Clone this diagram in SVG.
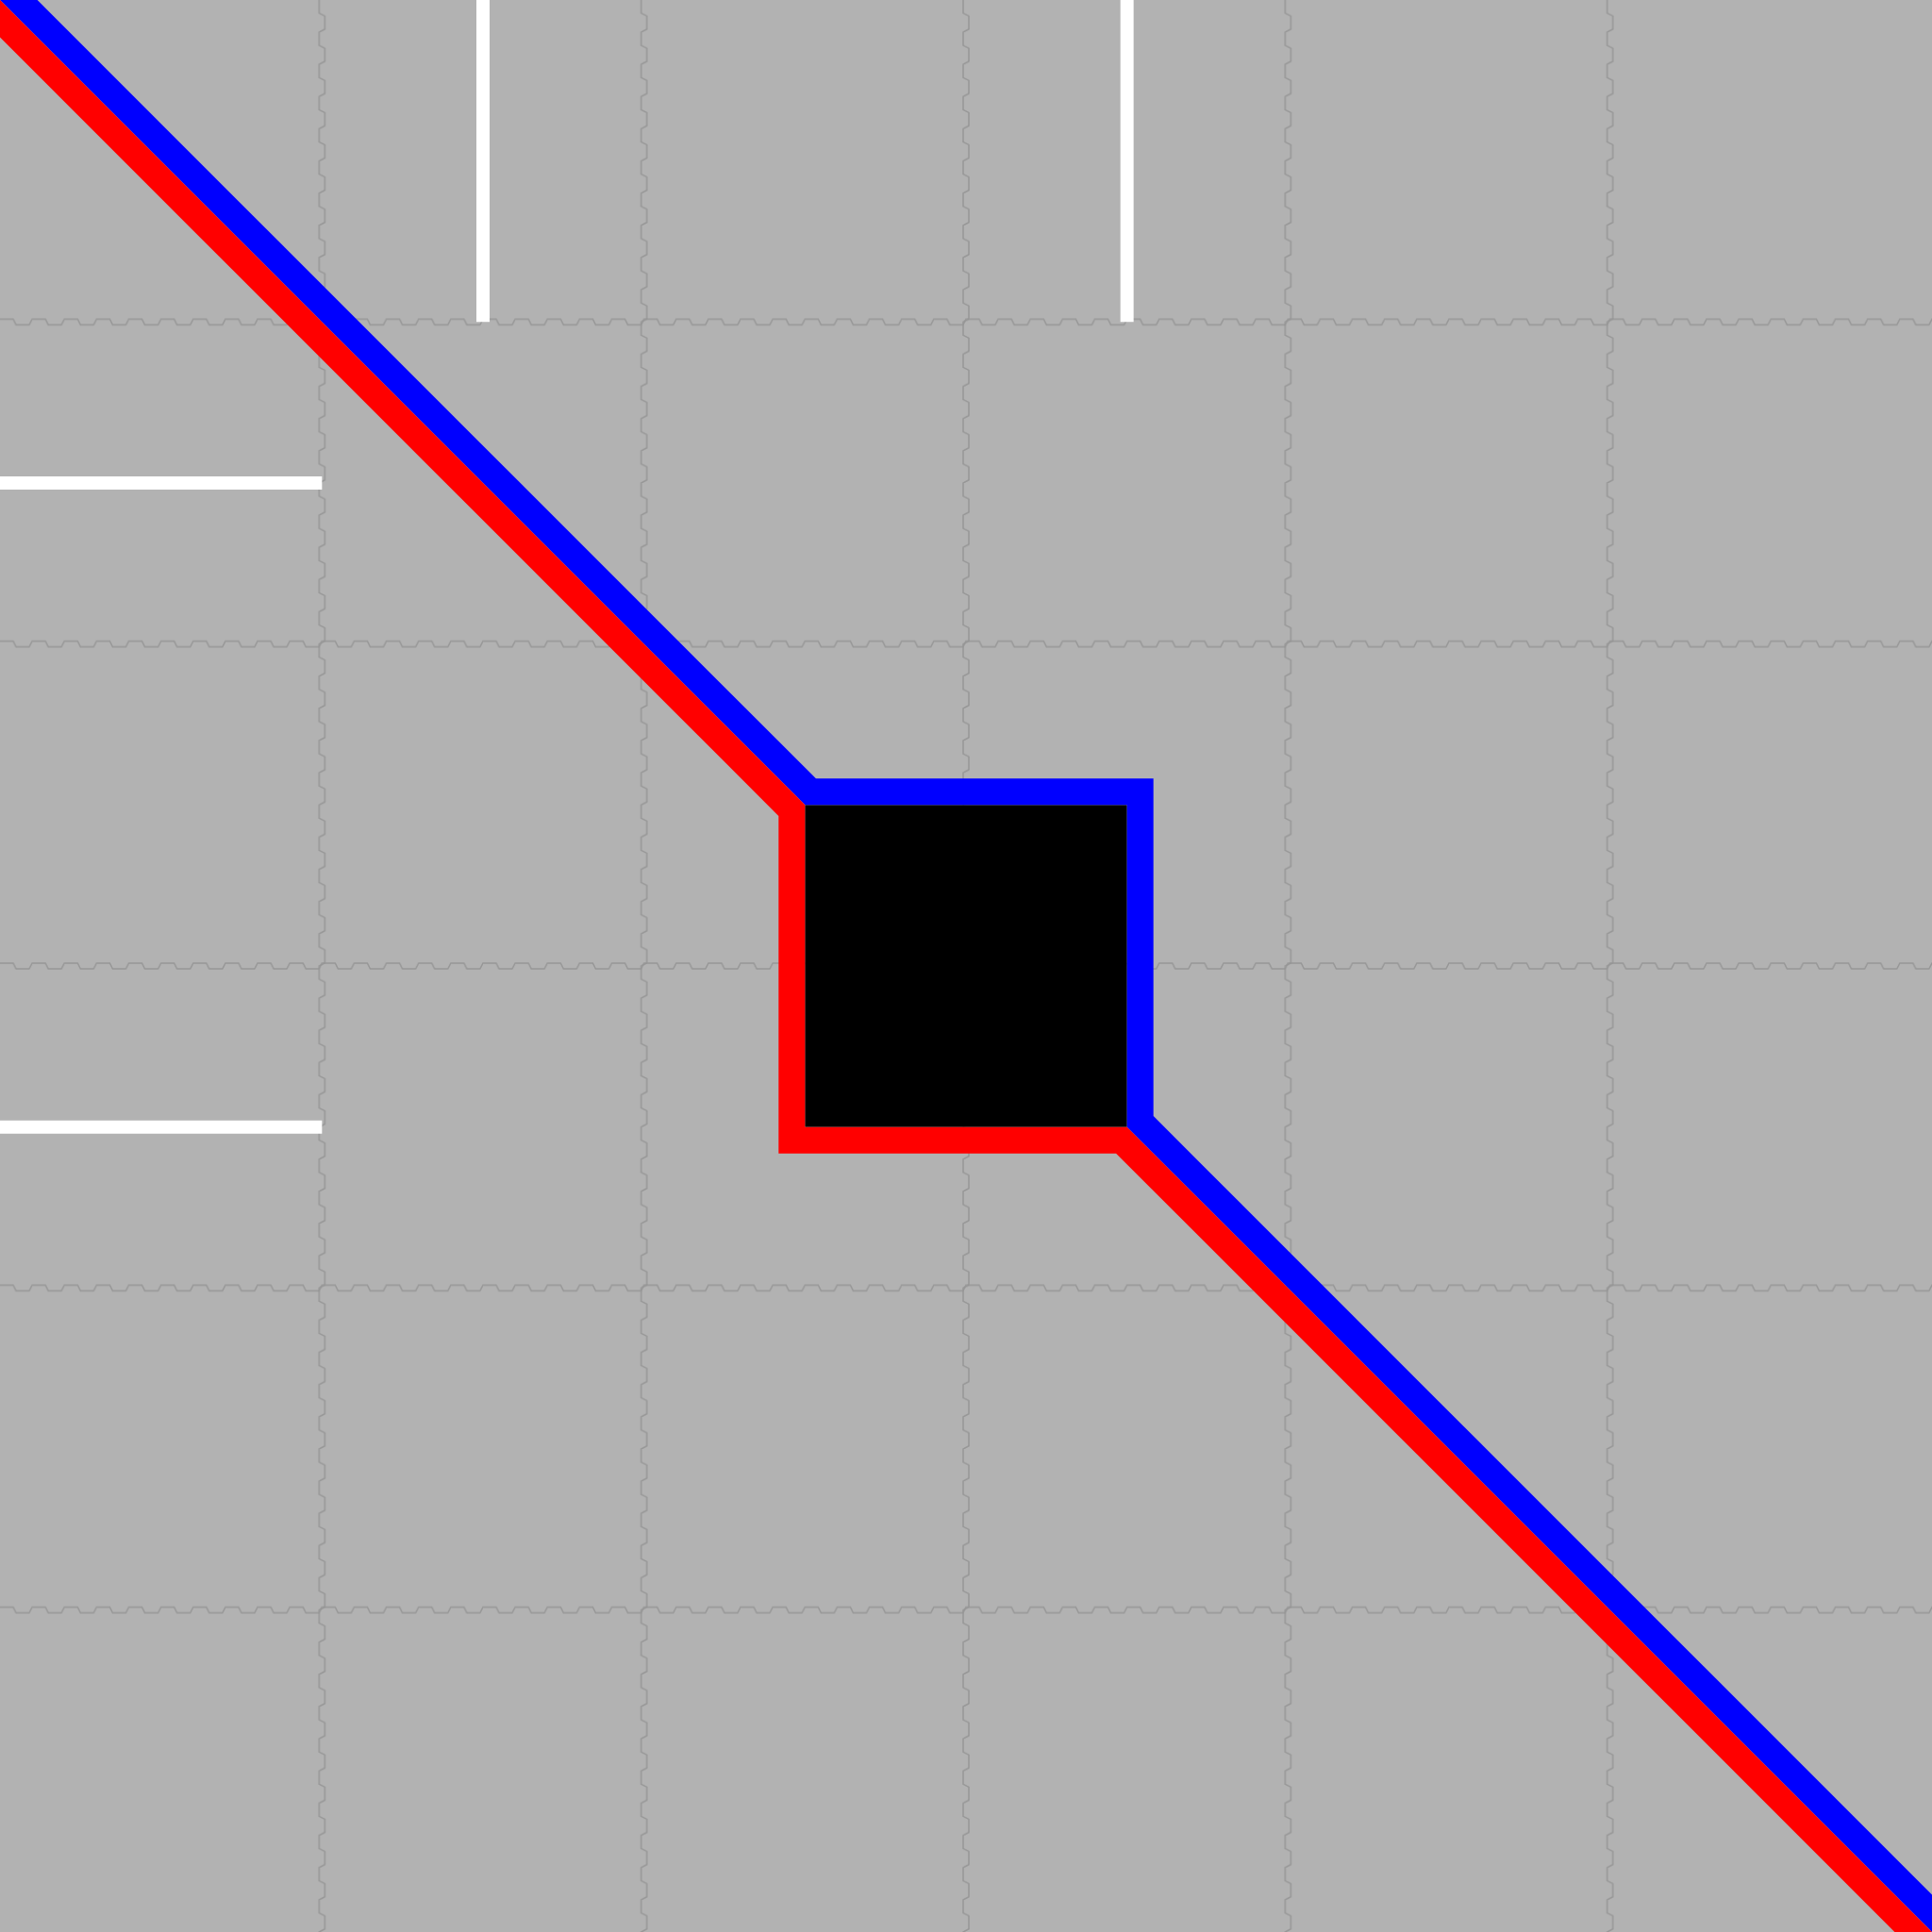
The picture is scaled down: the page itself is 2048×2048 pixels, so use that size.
<svg xmlns="http://www.w3.org/2000/svg" width="2048" height="2048" viewBox="0 0 2048 2048">
  <style>
    .zig { fill: none; stroke: #969696; stroke-width: 1.5; }
    .road { stroke: #ffffff; stroke-width: 14; fill: none; }
  </style>
  <defs>
    <pattern id="hz" patternUnits="userSpaceOnUse" x="0" y="170.6667" width="34.1333" height="341.3333">
      <path class="zig" d="M-1,167.67 L14,167.67 L17,173.67 L31,173.67 L34.13,167.67 L36,167.67"/>
    </pattern>
    <pattern id="vz" patternUnits="userSpaceOnUse" x="170.6667" y="0" width="341.3333" height="34.1333">
      <path class="zig" d="M167.67,-1 L167.67,14 L173.67,17 L173.67,31 L167.67,34.13 L167.67,36"/>
    </pattern>
  </defs>
  <rect id="background" x="0" y="0" width="2048" height="2048" fill="#b2b2b2"/>
  <g id="grid">
    <rect x="0" y="335.33" width="2048" height="12" fill="url(#hz)"/>
    <rect x="0" y="676.67" width="2048" height="12" fill="url(#hz)"/>
    <rect x="0" y="1018" width="2048" height="12" fill="url(#hz)"/>
    <rect x="0" y="1359.33" width="2048" height="12" fill="url(#hz)"/>
    <rect x="0" y="1700.67" width="2048" height="12" fill="url(#hz)"/>
    <rect x="335.33" y="0" width="12" height="2048" fill="url(#vz)"/>
    <rect x="676.67" y="0" width="12" height="2048" fill="url(#vz)"/>
    <rect x="1018" y="0" width="12" height="2048" fill="url(#vz)"/>
    <rect x="1359.33" y="0" width="12" height="2048" fill="url(#vz)"/>
    <rect x="1700.67" y="0" width="12" height="2048" fill="url(#vz)"/>
  </g>
  <g id="white-lines">
    <line class="road" x1="512" y1="0" x2="512" y2="341.33"/>
    <line class="road" x1="1194.67" y1="0" x2="1194.67" y2="341.33"/>
    <line class="road" x1="0" y1="512" x2="341.33" y2="512"/>
    <line class="road" x1="0" y1="1194.67" x2="341.33" y2="1194.67"/>
  </g>
  <g id="node-block">
    <rect x="853.33" y="853.33" width="341.34" height="341.34" fill="#000000"/>
  </g>
  <g id="connectors">
    <path id="blue-route" fill="#0000ff" d="M0,0 L853.33,853.33 L1194.67,853.33 L1194.67,1194.67 L2048,2048 L2048,2008.4 L1222.67,1183.07 L1222.67,825.33 L864.93,825.33 L39.6,0 Z"/>
    <path id="red-route" fill="#ff0000" d="M0,0 L853.33,853.33 L853.33,1194.67 L1194.67,1194.67 L2048,2048 L2008.4,2048 L1183.07,1222.67 L825.33,1222.67 L825.33,864.93 L0,39.6 Z"/>
  </g>
</svg>
